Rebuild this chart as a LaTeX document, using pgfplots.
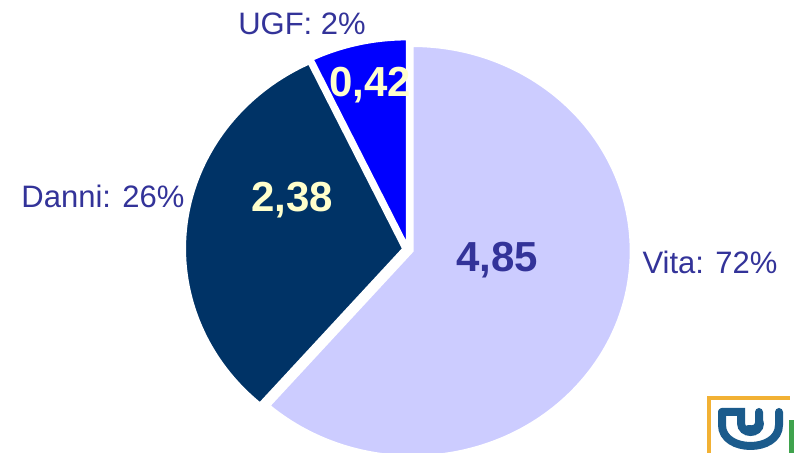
\documentclass[border=0pt]{standalone}
\usepackage{fontspec}
\setmainfont{Liberation Sans}
\usepackage{pgfplots}
\pgfplotsset{compat=1.18}
\definecolor{vita}{HTML}{CCCCFF}
\definecolor{danni}{HTML}{003366}
\definecolor{ugf}{HTML}{0000FF}
\definecolor{lbl}{HTML}{333399}
\definecolor{val}{HTML}{FFFFCC}
\definecolor{logoy}{HTML}{F2B134}
\definecolor{logob}{HTML}{1B5B8C}
\definecolor{logog}{HTML}{3FA34D}
\begin{document}
\begin{tikzpicture}
% slice shares as drawn in the chart (percent of the circle)
\def\sVita{61.4}\def\sDanni{31.5}\def\sUGF{7.1}
\pgfmathsetmacro{\tot}{\sVita+\sDanni+\sUGF}
\pgfmathsetmacro{\aU}{90+360*\sUGF/\tot}
\pgfmathsetmacro{\aD}{\aU+360*\sDanni/\tot}
\pgfmathsetmacro{\mU}{(90+\aU)/2}
\pgfmathsetmacro{\mD}{(\aU+\aD)/2}
\pgfmathsetmacro{\mV}{(\aD+450)/2}
\def\rx{109pt}\def\ry{102.5pt}
\begin{axis}[scale only axis, width=397pt, height=226.5pt,
  xmin=0, xmax=794, ymin=0, ymax=453, hide axis, clip=true]
\coordinate (bl) at (axis cs:0,0);
\coordinate (tr) at (axis cs:794,453);
% UGF slice
\fill[ugf, draw=white, line width=1pt, shift={(\mU:2.5pt)}]
  (axis cs:408,203.7) -- ++(90:\rx\space and \ry) arc[start angle=90, end angle=\aU, x radius=\rx, y radius=\ry] -- cycle;
% Danni slice
\fill[danni, draw=white, line width=1pt, shift={(\mD:2.5pt)}]
  (axis cs:408,203.7) -- ++(\aU:\rx\space and \ry) arc[start angle=\aU, end angle=\aD, x radius=\rx, y radius=\ry] -- cycle;
\node[anchor=base, text=val, font=\bfseries\fontsize{21}{21}\selectfont] at (axis cs:370,356) {0,42};
\node[anchor=base, text=val, font=\bfseries\fontsize{21}{21}\selectfont] at (axis cs:292,241) {2,38};
% Vita slice
\fill[vita, draw=white, line width=1pt, shift={(\mV:2.5pt)}]
  (axis cs:408,203.7) -- ++(\aD:\rx\space and \ry) arc[start angle=\aD, end angle=450, x radius=\rx, y radius=\ry] -- cycle;
\node[anchor=base, text=lbl, font=\bfseries\fontsize{21}{21}\selectfont] at (axis cs:497,181) {4,85};
% outer labels
\node[anchor=base, text=lbl, font=\fontsize{15.5}{15.5}\selectfont] at (axis cs:302,418) {UGF: 2\%};
\node[anchor=base, text=lbl, font=\fontsize{15.5}{15.5}\selectfont] at (axis cs:103,245) {Danni: 26\%};
\node[anchor=base, text=lbl, font=\fontsize{15.5}{15.5}\selectfont] at (axis cs:710,179) {Vita: 72\%};
% logo (partial, bottom right)
\draw[logoy, line width=2pt] (axis cs:709,-5) -- (axis cs:709,55) -- (axis cs:790,55);
\draw[logob, line width=4pt, line cap=round] (axis cs:722,41) -- (axis cs:722,28) .. controls (axis cs:722,0) and (axis cs:779,0) .. (axis cs:779,28) -- (axis cs:779,41);
\draw[logob, line width=4pt, line cap=round] (axis cs:722,41) -- (axis cs:741,41) -- (axis cs:741,30) .. controls (axis cs:741,18) and (axis cs:760,18) .. (axis cs:760,30);
\draw[logob, line width=4pt, line cap=round] (axis cs:759,41) -- (axis cs:759,30) .. controls (axis cs:759,24) and (axis cs:752,23) .. (axis cs:748,24);
\fill[logog] (axis cs:789,0) rectangle (axis cs:800,33);
\end{axis}
\pgfresetboundingbox
\path (bl) rectangle (tr);
\end{tikzpicture}
\end{document}
